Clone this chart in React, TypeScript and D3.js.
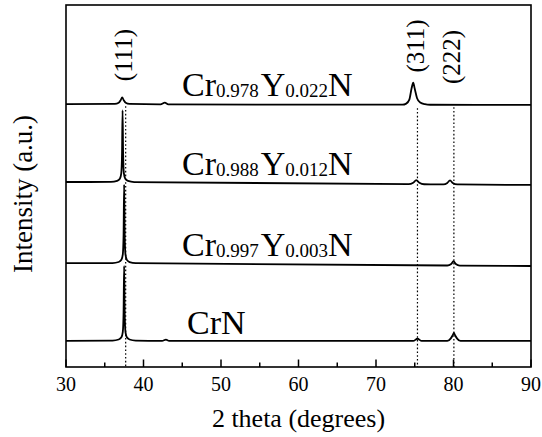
import React from "react";
import * as d3 from "d3";

const W = 542;
const H = 437;
const M = { left: 66, right: 531, top: 5, bottom: 367 };

const xTicks = [30, 40, 50, 60, 70, 80, 90];
const xMinorTicks = [35, 45, 55, 65, 75, 85];

// Sample names (main element, subscript) and offsets (a.u.)
const sampleCr = ["0.978", "0.988", "0.997", ""];
const sampleY = ["0.022", "0.012", "0.003", ""];
const baselineStart = [72.6, 51.1, 28.7, 7.2];
const baselineEnd = [72.4, 50.3, 27.9, 7.2];

// Peak positions (2 theta) for reference lines and labels
const refLines = [37.7, 75.35, 80.05];
const refLabels = ["(111)", "(311)", "(222)"];

// Key points [2θ, intensity above baseline]
const patternCrY978: [number, number][] = [
  [30, 0], [36.3, 0.1], [36.8, 0.4], [37.05, 1.1], [37.25, 1.9], [37.45, 1.1], [37.7, 0.4], [38.2, 0.1],
  [42.2, 0], [42.75, 0.45], [43.2, 0],
  [73.4, 0], [73.9, 0.3], [74.3, 1.4], [74.6, 4.6], [74.8, 6.1], [75.0, 4.4], [75.3, 1.8], [75.7, 0.6], [76.3, 0.15], [77.0, 0],
  [90, 0],
];
const patternCrY988: [number, number][] = [
  [30, 0], [35.8, 0.1], [36.6, 0.4], [36.95, 1.0], [37.13, 2.5], [37.23, 8], [37.3, 19.9], [37.37, 8], [37.47, 2.5], [37.65, 1.0], [38.0, 0.4], [38.8, 0.1],
  [74.2, 0], [74.8, 0.4], [75.2, 1.1], [75.6, 0.4], [76.2, 0],
  [78.7, 0], [79.2, 0.4], [79.55, 1.1], [79.9, 0.4], [80.5, 0],
  [90, 0],
];
const patternCrY997: [number, number][] = [
  [30, 0], [36.0, 0.1], [36.8, 0.4], [37.15, 1.0], [37.33, 2.5], [37.43, 8], [37.5, 21.8], [37.57, 8], [37.67, 2.5], [37.85, 1.0], [38.2, 0.4], [39.0, 0.1],
  [79.2, 0], [79.7, 0.4], [80.0, 1.2], [80.3, 0.4], [80.8, 0],
  [90, 0],
];
const patternCrN: [number, number][] = [
  [30, 0], [36.0, 0.1], [36.8, 0.4], [37.15, 1.0], [37.33, 2.5], [37.43, 8], [37.5, 20.7], [37.57, 8], [37.67, 2.5], [37.85, 1.0], [38.2, 0.4], [39.0, 0.1],
  [42.4, 0], [42.9, 0.35], [43.3, 0],
  [74.8, 0], [75.35, 0.6], [75.9, 0],
  [79.2, 0], [79.65, 0.7], [79.9, 1.6], [80.05, 2.2], [80.2, 1.6], [80.45, 0.7], [80.9, 0],
  [90, 0],
];
const patterns = [patternCrY978, patternCrY988, patternCrY997, patternCrN];

const labelX = [182, 182, 182, 187];
const labelBaseline = [96, 175, 256, 334];

const FONT = "Liberation Serif";

export default function App() {
  const x = d3.scaleLinear().domain([30, 90]).range([M.left, M.right]);
  const y = d3.scaleLinear().domain([0, 100]).range([M.bottom, M.top]);

  const line = (i: number) =>
    d3
      .line<[number, number]>()
      .x((d) => x(d[0]))
      .y((d) => {
        const t = (d[0] - 30) / 60;
        const base = baselineStart[i] + (baselineEnd[i] - baselineStart[i]) * t;
        return y(base + d[1]);
      })
      .curve(d3.curveMonotoneX)(patterns[i]) as string;

  const refTop = [y(baselineStart[0]) + 2, y(baselineStart[0]) + 4, y(baselineStart[0]) + 3];
  const refLabelY = [55, 46, 57];

  return (
    <svg width={W} height={H} style={{ position: "absolute", left: 0, top: 0, background: "#fff" }}>
      <rect x={0} y={0} width={W} height={H} fill="#fff" />
      {refLines.map((v, i) => (
        <line
          key={"r" + i}
          x1={x(v)}
          x2={x(v)}
          y1={refTop[i]}
          y2={M.bottom}
          stroke="#000"
          strokeWidth={1.2}
          strokeDasharray="1.6,2.2"
        />
      ))}
      {patterns.map((_, i) => (
        <path key={"p" + i} d={line(i)} fill="none" stroke="#000" strokeWidth={1.8} strokeLinejoin="round" />
      ))}
      <rect
        x={M.left}
        y={M.top}
        width={M.right - M.left}
        height={M.bottom - M.top}
        fill="none"
        stroke="#000"
        strokeWidth={1.6}
      />
      {xTicks.map((t) => (
        <line key={"t" + t} x1={x(t)} x2={x(t)} y1={M.bottom} y2={M.bottom - 7.5} stroke="#000" strokeWidth={1.5} />
      ))}
      {xMinorTicks.map((t) => (
        <line key={"m" + t} x1={x(t)} x2={x(t)} y1={M.bottom} y2={M.bottom - 4.5} stroke="#000" strokeWidth={1.5} />
      ))}
      {xTicks.map((t) => (
        <text key={"l" + t} x={x(t)} y={391} textAnchor="middle" fontSize={20} fill="#000" fontFamily={FONT}>
          {t}
        </text>
      ))}
      <text x={(M.left + M.right) / 2} y={427} textAnchor="middle" fontSize={26} fill="#000" fontFamily={FONT}>
        2 theta (degrees)
      </text>
      <text transform={`translate(32,194) rotate(-90)`} textAnchor="middle" fontSize={27} fill="#000" fontFamily={FONT}>
        Intensity (a.u.)
      </text>
      {refLabels.map((s, i) => (
        <text
          key={"pl" + i}
          transform={`translate(${x(refLines[i]) + 6.5},${refLabelY[i]}) rotate(-90)`}
          textAnchor="middle"
          fontSize={25}
          fill="#000"
          fontFamily={FONT}
        >
          {s}
        </text>
      ))}
      {sampleCr.map((c, i) =>
        c ? (
          <text key={"s" + i} x={labelX[i]} y={labelBaseline[i]} fontSize={34} fill="#000" fontFamily={FONT}>
            Cr
            <tspan fontSize={19} dy={1}>{c}</tspan>
            <tspan fontSize={34} dy={-1} dx={2}>Y</tspan>
            <tspan fontSize={19} dy={1}>{sampleY[i]}</tspan>
            <tspan fontSize={34} dy={-1}>N</tspan>
          </text>
        ) : (
          <text key={"s" + i} x={labelX[i]} y={labelBaseline[i]} fontSize={34} fill="#000" fontFamily={FONT}>
            CrN
          </text>
        )
      )}
    </svg>
  );
}
